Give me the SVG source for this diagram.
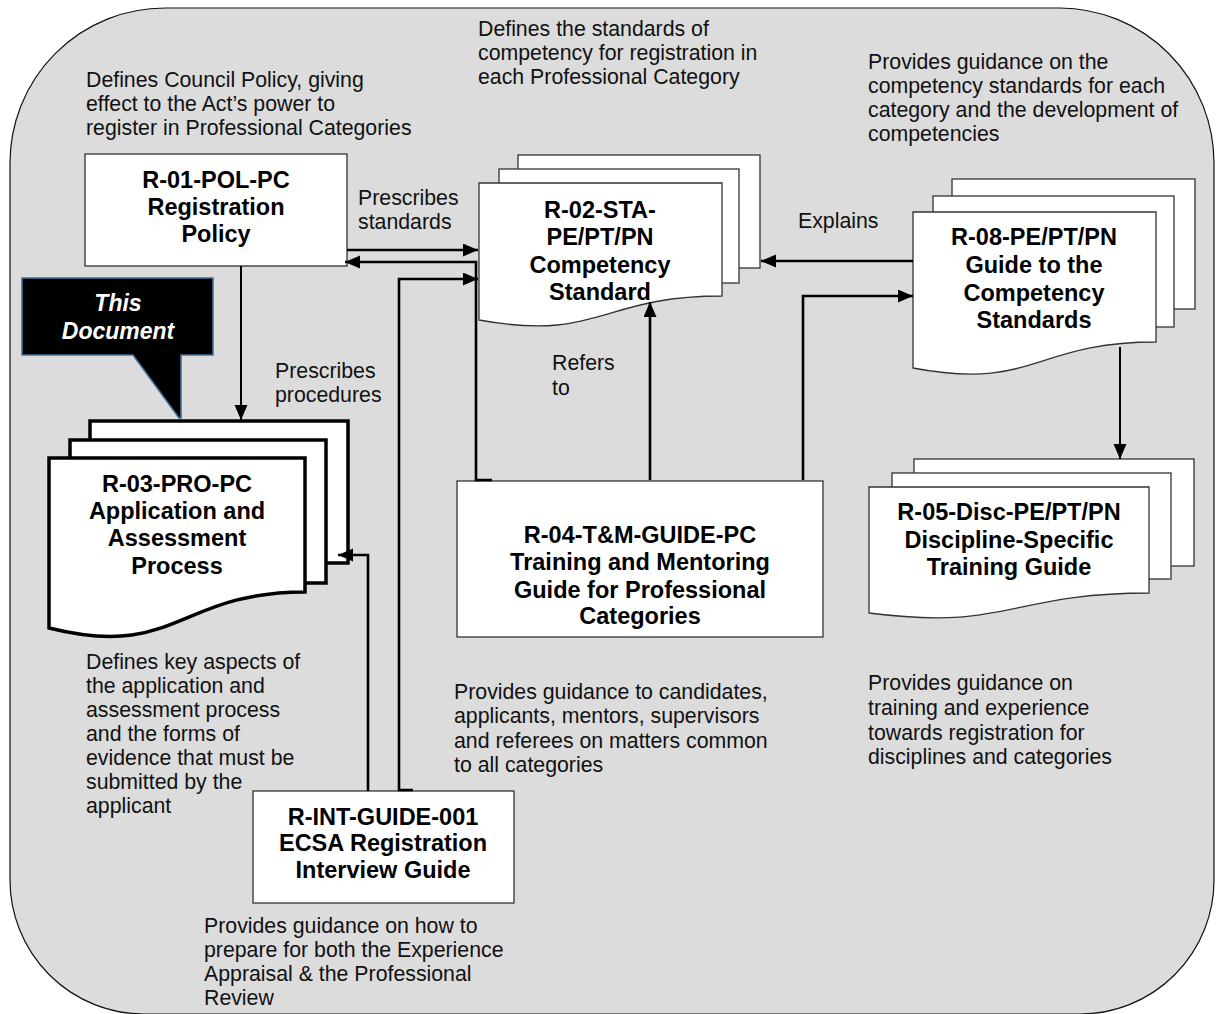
<svg xmlns="http://www.w3.org/2000/svg" width="1217" height="1014" viewBox="0 0 1217 1014">
<style>
.bg{fill:#dcdcdc;stroke:#111;stroke-width:1.2}
.box{fill:#fff;stroke:#333;stroke-width:1.3}
.thick{fill:#fff;stroke:#000;stroke-width:3.5}
.t{font-family:"Liberation Sans",Arial,sans-serif;font-size:21.3px;fill:#111}
.b{font-family:"Liberation Sans",Arial,sans-serif;font-size:23.5px;font-weight:bold;fill:#000;text-anchor:middle}
.w{font-family:"Liberation Sans",Arial,sans-serif;font-size:23px;font-weight:bold;font-style:italic;fill:#fff;text-anchor:middle}
.c{fill:none;stroke:#000;stroke-width:2.6;marker-end:url(#ah)}
.c2{fill:none;stroke:#000;stroke-width:2;marker-end:url(#ah)}
</style>
<defs>
<marker id="ah" markerUnits="userSpaceOnUse" markerWidth="16" markerHeight="14" refX="15" refY="6.5" orient="auto">
<path d="M0,0 L15,6.5 L0,13 Z" fill="#000"/>
</marker>
</defs>
<path class="bg" d="M165,8 H1060 A155,155 0 0 1 1214,163 V880 A134,134 0 0 1 1080,1014 H144 A134,134 0 0 1 10,880 V163 A155,155 0 0 1 165,8 Z"/>

<g id="labels">
<text class="t" x="86" y="87">Defines Council Policy, giving</text>
<text class="t" x="86" y="111">effect to the Act’s power to</text>
<text class="t" x="86" y="135">register in Professional Categories</text>
<text class="t" x="478" y="36">Defines the standards of</text>
<text class="t" x="478" y="60">competency for registration in</text>
<text class="t" x="478" y="84">each Professional Category</text>
<text class="t" x="868" y="69">Provides guidance on the</text>
<text class="t" x="868" y="93">competency standards for each</text>
<text class="t" x="868" y="117">category and the development of</text>
<text class="t" x="868" y="141">competencies</text>
<text class="t" x="358" y="205">Prescribes</text>
<text class="t" x="358" y="229">standards</text>
<text class="t" x="798" y="228">Explains</text>
<text class="t" x="275" y="378">Prescribes</text>
<text class="t" x="275" y="402">procedures</text>
<text class="t" x="552" y="370">Refers</text>
<text class="t" x="552" y="395">to</text>
<text class="t" x="86" y="669">Defines key aspects of</text>
<text class="t" x="86" y="693">the application and</text>
<text class="t" x="86" y="717">assessment process</text>
<text class="t" x="86" y="741">and the forms of</text>
<text class="t" x="86" y="765">evidence that must be</text>
<text class="t" x="86" y="789">submitted by the</text>
<text class="t" x="86" y="813">applicant</text>
<text class="t" x="454" y="699">Provides guidance to candidates,</text>
<text class="t" x="454" y="723">applicants, mentors, supervisors</text>
<text class="t" x="454" y="748">and referees on matters common</text>
<text class="t" x="454" y="772">to all categories</text>
<text class="t" x="868" y="690">Provides guidance on</text>
<text class="t" x="868" y="715">training and experience</text>
<text class="t" x="868" y="740">towards registration for</text>
<text class="t" x="868" y="764">disciplines and categories</text>
<text class="t" x="204" y="933">Provides guidance on how to</text>
<text class="t" x="204" y="957">prepare for both the Experience</text>
<text class="t" x="204" y="981">Appraisal &amp; the Professional</text>
<text class="t" x="204" y="1005">Review</text>
</g>

<g id="r01">
<rect class="box" x="85" y="154" width="262" height="112"/>
<text class="b" x="216" y="188">R-01-POL-PC</text>
<text class="b" x="216" y="215">Registration</text>
<text class="b" x="216" y="242">Policy</text>
</g>

<g id="r02">
<rect class="box" x="518" y="155" width="242" height="113"/>
<rect class="box" x="499" y="169" width="240" height="114"/>
<path class="box" d="M479,183 H722 V296 C600,296 600,342 479,320 Z"/>
<text class="b" x="600" y="218">R-02-STA-</text>
<text class="b" x="600" y="245">PE/PT/PN</text>
<text class="b" x="600" y="273">Competency</text>
<text class="b" x="600" y="300">Standard</text>
</g>

<g id="r08">
<rect class="box" x="952" y="179" width="243" height="130"/>
<rect class="box" x="933" y="196" width="241" height="131"/>
<path class="box" d="M913,212 H1156 V342 C1034,342 1034,391 913,368 Z"/>
<text class="b" x="1034" y="245">R-08-PE/PT/PN</text>
<text class="b" x="1034" y="273">Guide to the</text>
<text class="b" x="1034" y="301">Competency</text>
<text class="b" x="1034" y="328">Standards</text>
</g>

<g id="r05">
<rect class="box" x="914" y="459" width="280" height="107"/>
<rect class="box" x="892" y="473" width="279" height="106"/>
<path class="box" d="M869,487 H1149 V593 C1009,593 1009,631 869,613 Z"/>
<text class="b" x="1009" y="520">R-05-Disc-PE/PT/PN</text>
<text class="b" x="1009" y="548">Discipline-Specific</text>
<text class="b" x="1009" y="575">Training Guide</text>
</g>

<g id="r03">
<rect class="thick" x="90" y="421" width="258" height="142"/>
<rect class="thick" x="70" y="440" width="256" height="143"/>
<path class="thick" d="M49,458 H305 V592 C177,592 177,660 49,628 Z"/>
<text class="b" x="177" y="492">R-03-PRO-PC</text>
<text class="b" x="177" y="519">Application and</text>
<text class="b" x="177" y="546">Assessment</text>
<text class="b" x="177" y="574">Process</text>
</g>

<g id="this-document">
<path d="M22,278 H213 V355 H181 V418 L179,418 L133,355 H22 Z" fill="#000" stroke="#41719c" stroke-width="1.6"/>
<text class="w" x="118" y="311">This</text>
<text class="w" x="118" y="339">Document</text>
</g>

<g id="r04">
<rect class="box" x="457" y="481" width="366" height="156"/>
<text class="b" x="640" y="543">R-04-T&amp;M-GUIDE-PC</text>
<text class="b" x="640" y="570">Training and Mentoring</text>
<text class="b" x="640" y="598">Guide for Professional</text>
<text class="b" x="640" y="624">Categories</text>
</g>

<g id="rint">
<rect class="box" x="253" y="791" width="261" height="112"/>
<text class="b" x="383" y="825">R-INT-GUIDE-001</text>
<text class="b" x="383" y="851">ECSA Registration</text>
<text class="b" x="383" y="878">Interview Guide</text>
</g>

<g id="connectors">
<path class="c" d="M347,250 H478"/>
<path class="c" d="M492,480 H476 V262 H345"/>
<path class="c" d="M413,790 H399 V279 H478"/>
<path class="c2" d="M241,266 V420"/>
<path class="c" d="M368,791 V555 H338"/>
<path class="c" d="M650,480 V302"/>
<path class="c" d="M803,480 V296 H913"/>
<path class="c" d="M913,261 H761"/>
<path class="c2" d="M1120,347 V459"/>
</g>
</svg>
